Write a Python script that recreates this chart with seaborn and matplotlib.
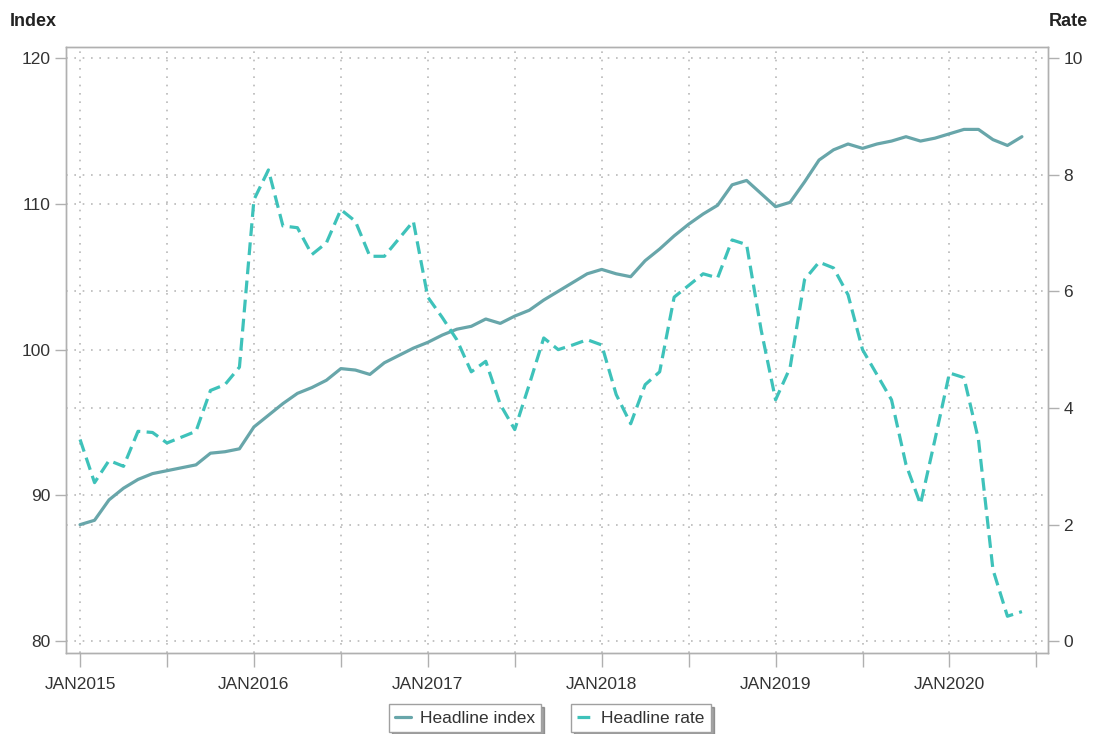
import numpy as np
import pandas as pd
import seaborn as sns
import matplotlib.pyplot as plt
from matplotlib.lines import Line2D

# monthly values, JAN2015 .. JUN2020
headline_index = [
    88.0, 88.3, 89.7, 90.5, 91.1, 91.5, 91.7, 91.9, 92.1, 92.9, 93.0, 93.2,
    94.7, 95.5, 96.3, 97.0, 97.4, 97.9, 98.7, 98.6, 98.3, 99.1, 99.6, 100.1,
    100.5, 101.0, 101.4, 101.6, 102.1, 101.8, 102.3, 102.7, 103.4, 104.0, 104.6, 105.2,
    105.5, 105.2, 105.0, 106.1, 106.9, 107.8, 108.6, 109.3, 109.9, 111.3, 111.6, 110.7,
    109.8, 110.1, 111.5, 113.0, 113.7, 114.1, 113.8, 114.1, 114.3, 114.6, 114.3, 114.5,
    114.8, 115.1, 115.1, 114.4, 114.0, 114.6,
]
headline_rate = [
    3.46, 2.72, 3.10, 3.00, 3.60, 3.58, 3.40, 3.50, 3.60, 4.30, 4.40, 4.70,
    7.57, 8.08, 7.12, 7.09, 6.63, 6.83, 7.40, 7.20, 6.60, 6.60, 6.90, 7.20,
    5.90, 5.55, 5.17, 4.62, 4.80, 4.06, 3.63, 4.40, 5.20, 5.00, 5.08, 5.17,
    5.08, 4.23, 3.73, 4.40, 4.62, 5.90, 6.10, 6.30, 6.23, 6.88, 6.80, 5.34,
    4.14, 4.69, 6.20, 6.50, 6.40, 5.94, 5.00, 4.57, 4.14, 3.03, 2.35, 3.46,
    4.60, 4.52, 3.46, 1.23, 0.43, 0.51,
]
years = ["JAN2015", "JAN2016", "JAN2017", "JAN2018", "JAN2019", "JAN2020"]

df = pd.DataFrame({"month": np.arange(len(headline_index)),
                   "index": headline_index, "rate": headline_rate})

sns.set_style("white")
plt.rcParams["font.family"] = ["Liberation Sans", "DejaVu Sans"]

idx_col = "#68a6aa"
rate_col = "#3ec2ba"
grid_col = "#b9b9b9"
spine_col = "#b0b0b0"
text_col = "#333333"

fig = plt.figure(figsize=(10.93, 7.34), dpi=100)
ax = fig.add_axes([66/1093, 81/734, 982/1093, 606/734])
ax2 = ax.twinx()

sns.lineplot(data=df, x="month", y="index", ax=ax, color=idx_col, linewidth=2.3)
sns.lineplot(data=df, x="month", y="rate", ax=ax2, color=rate_col, linewidth=2.3)
ax2.lines[0].set_dashes((4, 2))

ax.set_ylim(79.2, 120.75)
ax2.set_ylim(-0.2, 10.1875)
ax.set_xlim(-0.97, 66.8)

ax.set_yticks([80, 90, 100, 110, 120])
# rate grid lines (0,2,..,10 map onto 80,88,..,120)
ax.set_yticks([88, 96, 104, 112], minor=True)
ax2.set_yticks([0, 2, 4, 6, 8, 10])

xt = list(range(0, 67, 6))
ax.set_xticks(xt)
ax.set_xticklabels([years[i // 12] if i % 12 == 0 else "" for i in xt])

ax.grid(True, which="both", color=grid_col, linestyle=(0, (1, 4)), linewidth=1.2)
ax2.grid(False)
ax.set_axisbelow(True)

for a in (ax, ax2):
    for s in a.spines.values():
        s.set_color(spine_col)
        s.set_linewidth(1.0)
    a.set_xlabel("")
    a.set_ylabel("")

ax.tick_params(axis="y", which="major", direction="out", length=8, width=1,
               color=spine_col, labelsize=12.5, labelcolor=text_col, pad=3, left=True)
ax.tick_params(axis="y", which="minor", length=0)
ax.tick_params(axis="x", direction="out", length=10, width=1, color=spine_col,
               labelsize=12.5, labelcolor=text_col, pad=7, bottom=True)
ax2.tick_params(axis="y", direction="out", length=8, width=1, color=spine_col,
                labelsize=12.5, labelcolor=text_col, pad=3, right=True)

fig.text(10/1093, 1 - 22/734, "Index", fontsize=13, fontweight="bold",
         color="#222222", va="center", ha="left")
fig.text(1088/1093, 1 - 22/734, "Rate", fontsize=13, fontweight="bold",
         color="#222222", va="center", ha="right")

h1 = [Line2D([], [], color=idx_col, linewidth=2.3)]
h2 = [Line2D([], [], color=rate_col, linewidth=2.3, dashes=(4, 2))]
common = dict(loc="center", frameon=True, fancybox=False, shadow=True,
              fontsize=12.5, handlelength=0.9, handletextpad=0.5,
              borderpad=0.35, borderaxespad=0)
leg1 = fig.legend(h1, ["Headline index"], bbox_to_anchor=(465/1093, 1 - 718/734), **common)
leg2 = fig.legend(h2, ["Headline rate"], bbox_to_anchor=(641/1093, 1 - 718/734), **common)
for lg in (leg1, leg2):
    lg.get_frame().set_edgecolor("#a0a0a0")
    lg.get_frame().set_linewidth(1.0)
    for t in lg.get_texts():
        t.set_color(text_col)

fig.savefig("out.png", dpi=100)
